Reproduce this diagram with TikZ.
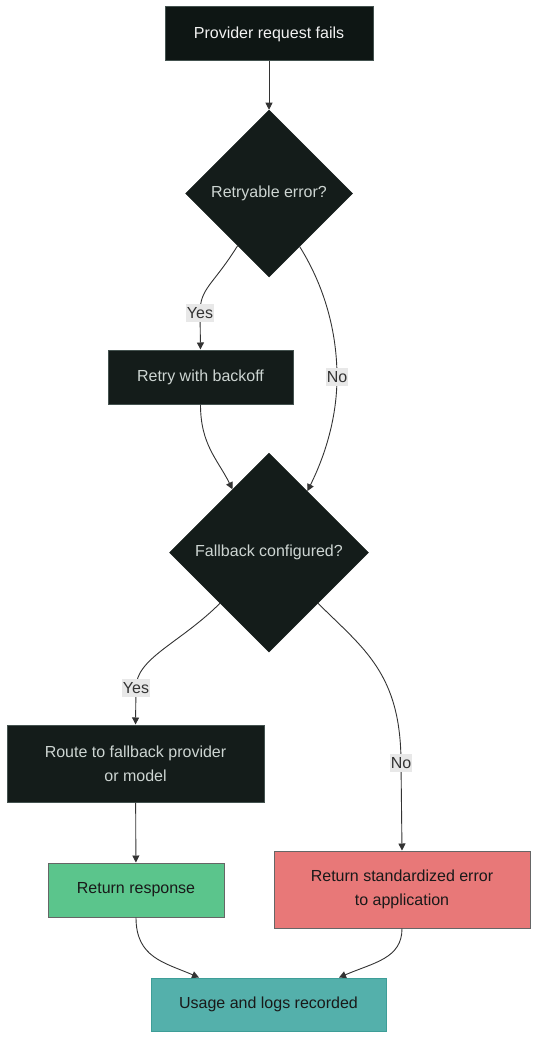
\documentclass[tikz,border=0pt]{standalone}
\usepackage{fontspec}
\setmainfont{Liberation Sans}
\usetikzlibrary{shapes.geometric,arrows.meta,calc}
\definecolor{topfill}{HTML}{0E1614}
\definecolor{darkfill}{HTML}{141C1A}
\definecolor{darkborder}{HTML}{44524F}
\definecolor{darktext}{HTML}{CDD5D2}
\definecolor{toptext}{HTML}{F2F2F2}
\definecolor{okfill}{HTML}{5BC58C}
\definecolor{errfill}{HTML}{E87878}
\definecolor{tealfill}{HTML}{54B0AB}
\definecolor{tealborder}{HTML}{3E9E98}
\definecolor{grayborder}{HTML}{666666}
\definecolor{lblfill}{HTML}{E8E8E8}
\definecolor{edgecol}{HTML}{333333}
\begin{document}
\begin{tikzpicture}[x=1pt,y=-1pt,
  every node/.style={font=\fontsize{16}{24}\selectfont, align=center, inner sep=0pt},
  topbox/.style={rectangle, draw=darkborder, fill=topfill, text=toptext, line width=1pt},
  darkbox/.style={rectangle, draw=darkborder, fill=darkfill, text=darktext, line width=1pt},
  decision/.style={diamond, fill=darkfill, text=darktext, draw=darkfill, line width=0.5pt},
  okbox/.style={rectangle, draw=grayborder, fill=okfill, text=black!90, line width=1pt},
  errbox/.style={rectangle, draw=grayborder, fill=errfill, text=black!90, line width=1pt},
  tealbox/.style={rectangle, draw=tealborder, fill=tealfill, text=black!90, line width=1pt},
  edge/.style={draw=edgecol, line width=0.9pt, -{Triangle[length=7pt,width=7pt]}},
  lbl/.style={fill=lblfill, text=edgecol, inner xsep=1pt, inner ysep=3pt}
]
\useasboundingbox (0,0) rectangle (546,1054);

\node[topbox, minimum width=208pt, minimum height=54pt] (s) at (269,34) {Provider request fails};
\node[decision, minimum width=167pt, minimum height=167pt] (d1) at (269,193.5) {\makebox[0pt]{Retryable error?}};
\node[darkbox, minimum width=185pt, minimum height=54pt] (retry) at (200.5,377) {Retry with backoff};
\node[decision, minimum width=199pt, minimum height=199pt] (d2) at (269,552.5) {\makebox[0pt]{Fallback configured?}};
\node[darkbox, minimum width=257pt, minimum height=77pt] (route) at (135.5,763.5) {Route to fallback provider\\or model};
\node[okbox, minimum width=176pt, minimum height=54pt] (resp) at (136,890) {Return response};
\node[errbox, minimum width=256pt, minimum height=77pt] (err) at (402,889.5) {Return standardized error\\to application};
\node[tealbox, minimum width=235pt, minimum height=53pt] (usage) at (268.5,1004.5) {Usage and logs recorded};

\coordinate (y1) at (200,313);
\coordinate (n1) at (337,377);
\coordinate (y2) at (136,688);
\coordinate (n2) at (401,763);

\draw[edge] (s) -- (d1);
\draw[edge] (d1.239) .. controls +(-25,40) and +(0,-25) .. (y1) -- (retry.north);
\draw[edge] (d1.300) .. controls +(25,40) and +(0,-45) .. (n1) .. controls +(0,45) and +(15,-30) .. (d2.58);
\draw[edge] (retry.south) .. controls +(0,40) and +(-15,-30) .. (d2.120);
\draw[edge] (d2.226) .. controls +(-40,40) and +(0,-30) .. (y2) -- (route.north);
\draw[edge] (d2.314) .. controls +(45,45) and +(0,-90) .. (n2) -- (err.north);
\draw[edge] (route) -- (resp);
\draw[edge] (resp.south) .. controls +(0,40) and +(-35,-15) .. ([xshift=-69.5pt]usage.north);
\draw[edge] (err.south) .. controls +(0,30) and +(35,-15) .. ([xshift=70.5pt]usage.north);

\node[lbl] (ly1) at (y1) {Yes};
\node[lbl] (ln1) at (n1) {No};
\node[lbl] (ly2) at (y2) {Yes};
\node[lbl] (ln2) at (n2) {No};
\end{tikzpicture}
\end{document}
